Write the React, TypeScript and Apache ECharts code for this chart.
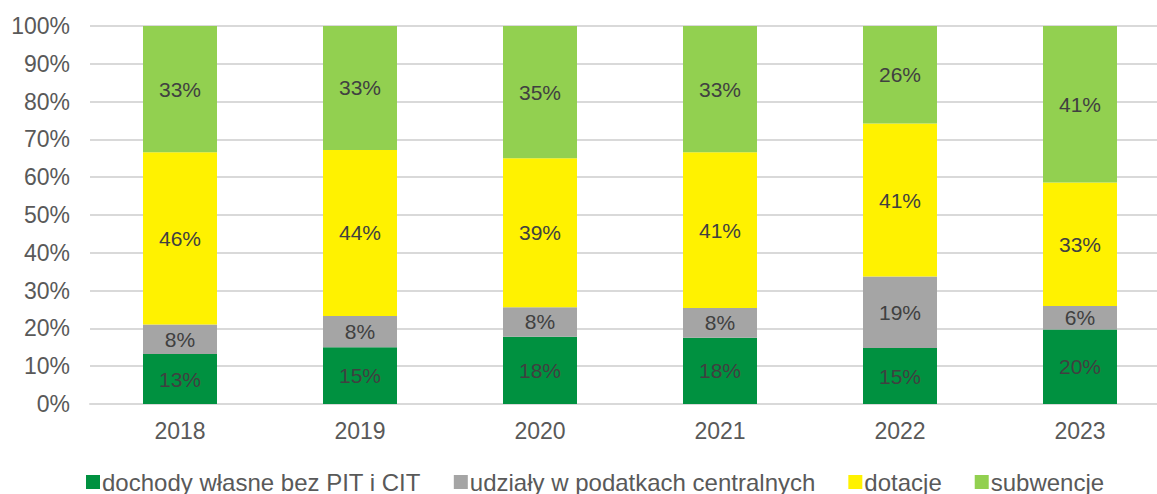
import React, { useEffect, useRef } from "react";
import * as echarts from "echarts";

const years = ["2018", "2019", "2020", "2021", "2022", "2023"];
const seriesNames = [
  "dochody własne bez PIT i CIT",
  "udziały w podatkach centralnych",
  "dotacje",
  "subwencje",
];
const ownIncome = [13.2, 15.0, 17.8, 17.5, 14.8, 19.7];
const taxShares = [7.8, 8.3, 7.8, 7.9, 18.9, 6.2];
const grants = [45.6, 43.9, 39.4, 41.2, 40.5, 32.7];
const subsidies = [33.4, 32.8, 35.0, 33.4, 25.8, 41.4];
const colors = ["#009140", "#a5a5a5", "#fff200", "#92d050"];

export default function App() {
  const ref = useRef<HTMLDivElement>(null);
  useEffect(() => {
    if (!ref.current) return;
    const chart = echarts.init(ref.current, undefined, { renderer: "svg" });
    const font = "'Liberation Sans', Arial, sans-serif";
    const data = [ownIncome, taxShares, grants, subsidies];
    chart.setOption({
      animation: false,
      textStyle: { fontFamily: font },
      grid: { left: 90, right: 0, top: 26, bottom: 90, containLabel: false },
      legend: {
        top: 465,
        left: 81,
        itemWidth: 14,
        itemHeight: 14,
        itemGap: 33,
        icon: "rect",
        textStyle: { fontSize: 24, color: "#595959", fontFamily: font, padding: [0, 0, 0, -3] },
        data: seriesNames,
      },
      xAxis: {
        type: "category",
        data: years,
        axisLine: { lineStyle: { color: "#d9d9d9", width: 2 } },
        axisTick: { show: false },
        axisLabel: { fontSize: 23, color: "#595959", margin: 15, fontFamily: font },
      },
      yAxis: {
        type: "value",
        min: 0,
        max: 100,
        interval: 10,
        axisLine: { show: false },
        axisTick: { show: false },
        splitLine: { lineStyle: { color: "#d9d9d9", width: 2 } },
        axisLabel: {
          fontSize: 23,
          color: "#595959",
          margin: 20,
          fontFamily: font,
          formatter: (v: number) => v + "%",
        },
      },
      series: seriesNames.map((name, i) => ({
        name,
        type: "bar",
        stack: "total",
        barWidth: 74,
        itemStyle: { color: colors[i] },
        label: {
          show: true,
          position: "inside",
          fontSize: 21,
          color: "#404040",
          fontFamily: font,
          formatter: (p: any) => Math.round(p.value) + "%",
        },
        data: data[i],
      })),
    });
    return () => chart.dispose();
  }, []);
  return (
    <div
      ref={ref}
      style={{ position: "fixed", left: 0, top: 0, width: 1170, height: 494, background: "#fff" }}
    />
  );
}
